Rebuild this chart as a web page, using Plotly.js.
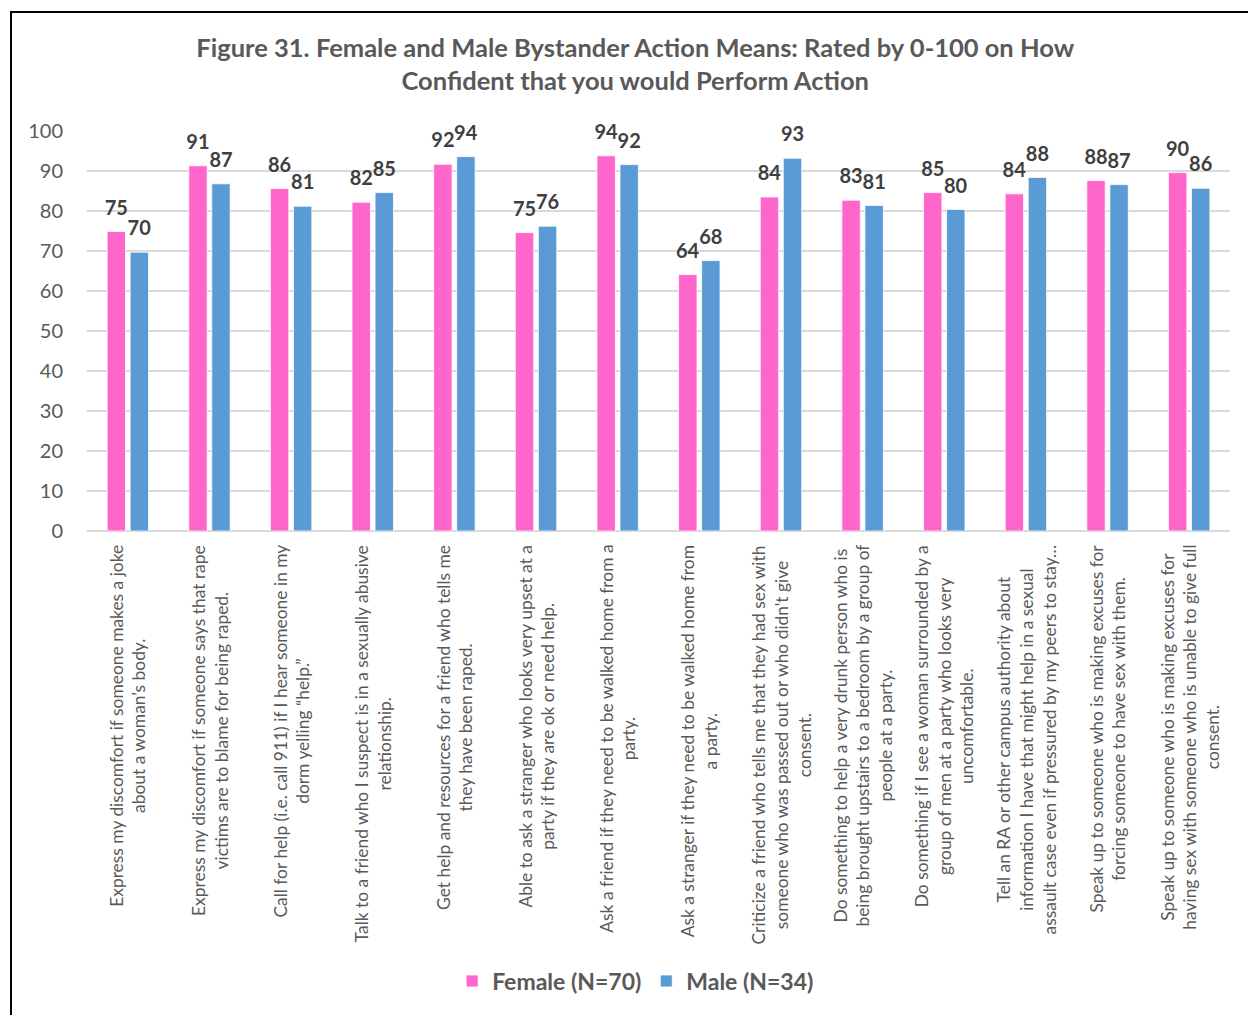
<!DOCTYPE html>
<html>
<head>
<meta charset="utf-8">
<script src="https://cdn.plot.ly/plotly-3.0.1.min.js"></script>
<style>
  html, body { margin: 0; padding: 0; background: #ffffff; }
  #frame { position: absolute; left: 10px; top: 11px; width: 1300px; height: 1100px;
           border-left: 2px solid #000; border-top: 2px solid #000; }
  #chart { position: absolute; left: 0; top: 0; width: 1248px; height: 1015px; }
</style>
</head>
<body>
<div id="frame"></div>
<div id="chart"></div>
<script>
const categories = [
  "Express my discomfort if someone makes a joke<br>about a woman’s body.",
  "Express my discomfort if someone says that rape<br>victims are to blame for being raped.",
  "Call for help (i.e. call 911) if I hear someone in my<br>dorm yelling “help.”",
  "Talk to a friend who I suspect is in a sexually abusive<br>relationship.",
  "Get help and resources for a friend who tells me<br>they have been raped.",
  "Able to ask a stranger who looks very upset at a<br>party if they are ok or need help.",
  "Ask a friend if they need to be walked home from a<br>party.",
  "Ask a stranger if they need to be walked home from<br>a party.",
  "Criticize a friend who tells me that they had sex with<br>someone who was passed out or who didn't give<br>consent.",
  "Do something to help a very drunk person who is<br>being brought upstairs to a bedroom by a group of<br>people at a party.",
  "Do something if I see a woman surrounded by a<br>group of men at a party who looks very<br>uncomfortable.",
  "Tell an RA or other campus authority about<br>information I have that might help in a sexual<br>assault case even if pressured by my peers to stay…",
  "Speak up to someone who is making excuses for<br>forcing someone to have sex with them.",
  "Speak up to someone who is making excuses for<br>having sex with someone who is unable to give full<br>consent."
];
const femaleValues = [74.9, 91.3, 85.6, 82.2, 91.7, 74.6, 93.8, 64.1, 83.5, 82.7, 84.6, 84.3, 87.6, 89.6];
const maleValues   = [69.7, 86.8, 81.2, 84.6, 93.6, 76.2, 91.6, 67.6, 93.2, 81.4, 80.4, 88.4, 86.6, 85.7];
const seriesNames = ["Female (N=70)", "Male (N=34)"];
const yTicks = [0, 10, 20, 30, 40, 50, 60, 70, 80, 90, 100];

const idx = categories.map((c, i) => i);
const gray = "#595959";
const FONT = "Lato, 'Open Sans', sans-serif";

// small base size: the trailing blank line lifts the label a little above the bar
const labelFont = { family: FONT, size: 9, color: "#404040", weight: "bold" };
const labelTemplate = "<span style='font-size:20px'>%{y:.0f}</span><br>\u00a0";

const traces = [
  {
    type: "bar", name: seriesNames[0], x: idx, y: femaleValues,
    marker: { color: "#FF66CC", line: { color: "#ffffff", width: 0.8 } },
    texttemplate: labelTemplate, textposition: "outside", textfont: labelFont,
    constraintext: "none", cliponaxis: false, hoverinfo: "y"
  },
  {
    type: "bar", name: seriesNames[1], x: idx, y: maleValues,
    marker: { color: "#5B9BD5", line: { color: "#ffffff", width: 0.8 } },
    texttemplate: labelTemplate, textposition: "outside", textfont: labelFont,
    constraintext: "none", cliponaxis: false, hoverinfo: "y"
  }
];

const annotations = categories.map((c, i) => ({
  text: c, x: i, xref: "x", y: -0.03, yref: "paper",
  xanchor: "center", yanchor: "top", textangle: -90, align: "center",
  showarrow: false, font: { family: FONT, size: 17.4, color: gray }
}));

const layout = {
  width: 1248, height: 1015,
  paper_bgcolor: "rgba(0,0,0,0)", plot_bgcolor: "rgba(0,0,0,0)",
  margin: { l: 87, r: 18, t: 131, b: 484 },
  title: {
    text: "Figure 31. Female and Male Bystander Action Means: Rated by 0-100 on How<br>Confident that you would Perform Action",
    font: { family: FONT, size: 25.5, color: gray, weight: "bold" },
    x: 0.509, xref: "container", xanchor: "center",
    y: 0.944, yref: "container", yanchor: "top"
  },
  barmode: "group", bargap: 0.436, bargroupgap: 0.2,
  xaxis: {
    range: [-0.5, categories.length - 0.5], showticklabels: false,
    showgrid: false, zeroline: false, showline: false, ticks: "", fixedrange: true
  },
  yaxis: {
    range: [0, 100], tickvals: yTicks, ticktext: yTicks.map(String),
    showgrid: true, gridcolor: "#d9d9d9", gridwidth: 1.5,
    zeroline: true, zerolinecolor: "#d9d9d9", zerolinewidth: 1.5,
    showline: false, ticks: "", ticklabelstandoff: 23,
    tickfont: { family: FONT, size: 20, color: gray }, fixedrange: true
  },
  showlegend: true,
  legend: {
    orientation: "h", x: 0.48, xanchor: "center", y: -1.125, yanchor: "middle",
    font: { family: FONT, size: 23, color: gray, weight: "bold" },
    itemwidth: 30, traceorder: "normal"
  },
  annotations: annotations
};

Plotly.newPlot("chart", traces, layout, { displayModeBar: false, staticPlot: true });
</script>
</body>
</html>
